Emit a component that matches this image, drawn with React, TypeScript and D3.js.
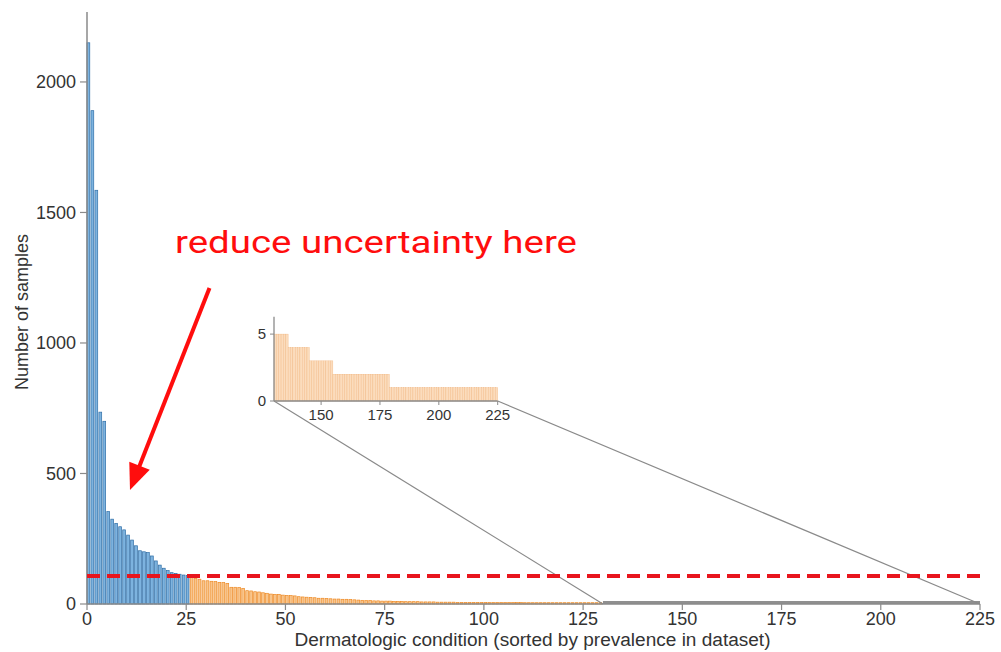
import React from "react";
import * as d3 from "d3";

// Number of samples per condition, sorted by prevalence
const blueCounts = [2150, 1890, 1585, 735, 700, 354, 325, 309, 296, 284, 264, 245, 223, 204, 200, 197, 184, 165, 149, 137, 128, 120, 117, 114, 111, 109];
const orangeCounts = [
  104, 98, 95, 89, 89, 87, 86, 83, 82, 79,
  64, 64, 63, 60, 51, 50, 47, 46, 43, 41,
  38, 37, 37, 34, 33, 32, 31, 28, 27, 26,
  25, 24, 22, 22, 21, 20, 19, 19, 18, 18,
  17, 16, 15, 14, 13, 13, 12, 12, 11, 11,
  11, 10, 10, 10, 9, 9, 9, 9, 8, 8,
  8, 8, 7, 7, 7, 7, 7, 6, 6, 6,
  6, 6, 6, 6, 6, 6, 6, 6, 6, 6,
  6, 6, 6, 6, 5, 5, 5, 5, 5, 5,
  5, 5, 5, 5, 5, 5, 5, 5, 5, 5,
  5, 5, 5, 5,
];
const insetStart = 130;
const insetCounts = [
  5, 5, 5, 5, 5, 5,
  4, 4, 4, 4, 4, 4, 4, 4, 4,
  3, 3, 3, 3, 3, 3, 3, 3, 3, 3,
  2, 2, 2, 2, 2, 2, 2, 2, 2, 2, 2, 2, 2, 2, 2, 2, 2, 2, 2, 2, 2, 2, 2, 2,
  1, 1, 1, 1, 1, 1, 1, 1, 1, 1, 1, 1, 1, 1, 1, 1, 1, 1, 1, 1, 1, 1, 1, 1,
  1, 1, 1, 1, 1, 1, 1, 1, 1, 1, 1, 1, 1, 1, 1, 1, 1, 1, 1, 1, 1, 1,
];
const threshold = 107;
const xTicks = [0, 25, 50, 75, 100, 125, 150, 175, 200, 225];
const yTicks = [0, 500, 1000, 1500, 2000];
const insetXTicks = [150, 175, 200, 225];
const insetYTicks = [0, 5];
const xTitle = "Dermatologic condition (sorted by prevalence in dataset)";
const yTitle = "Number of samples";
const annotation = "reduce uncertainty here";

const FONT = "'Liberation Sans', Arial, Helvetica, sans-serif";
const AXIS = "#8a8a8a";
const TXT = "#333";

export default function App() {
  const x = d3.scaleLinear().domain([0, 225]).range([87, 980]);
  const y = d3.scaleLinear().domain([0, 2268]).range([604, 12]);
  const xi = d3.scaleLinear().domain([insetStart, 225]).range([274, 497.7]);
  const yi = d3.scaleLinear().domain([0, 6.3]).range([401, 316.7]);
  const bw = (x(1) - x(0)) * 0.7;
  const ibw = xi(insetStart + 1) - xi(insetStart);

  const blue = blueCounts.map((v, i) => ({ i, v }));
  const orange = orangeCounts.map((v, k) => ({ i: blueCounts.length + k, v }));
  const inset = insetCounts.map((v, k) => ({ i: insetStart + k, v }));

  // arrow geometry
  const a0 = [209.5, 288];
  const tip = [130, 490];
  const dx = tip[0] - a0[0];
  const dy = tip[1] - a0[1];
  const len = Math.hypot(dx, dy);
  const ux = dx / len, uy = dy / len;
  const headL = 26, headW = 11;
  const bx = tip[0] - ux * headL, by = tip[1] - uy * headL;
  const head = `${tip[0]},${tip[1]} ${bx - uy * headW},${by + ux * headW} ${bx + uy * headW},${by - ux * headW}`;

  return (
    <svg width={1001} height={652} style={{ position: "absolute", left: 0, top: 0, background: "#fff" }}>
      {/* main bars */}
      {blue.map((d) => (
        <rect key={"b" + d.i} x={x(d.i)} y={y(d.v)} width={bw} height={y(0) - y(d.v)}
          fill="#7db3df" stroke="#2f6ea6" strokeWidth={0.7} />
      ))}
      {orange.map((d) => (
        <rect key={"o" + d.i} x={x(d.i)} y={y(d.v)} width={bw} height={y(0) - y(d.v)}
          fill="#f8c58c" stroke="#ee8a24" strokeWidth={0.7} />
      ))}
      {/* zoom region marker */}
      <rect x={x(insetStart)} y={y(0) - 3} width={x(225) - x(insetStart)} height={3} fill="#8f8f8f" />

      {/* connectors */}
      <line x1={x(insetStart)} y1={y(0)} x2={xi(insetStart)} y2={yi(0)} stroke={AXIS} strokeWidth={1.2} />
      <line x1={x(225)} y1={y(0)} x2={xi(225)} y2={yi(0)} stroke={AXIS} strokeWidth={1.2} />

      {/* main axes */}
      <line x1={x(0)} y1={y(0)} x2={x(225)} y2={y(0)} stroke={AXIS} strokeWidth={1.5} />
      <line x1={x(0)} y1={12} x2={x(0)} y2={y(0)} stroke={AXIS} strokeWidth={1.5} />
      {xTicks.map((t) => (
        <g key={"xt" + t}>
          <line x1={x(t)} x2={x(t)} y1={y(0)} y2={y(0) + 6} stroke={AXIS} strokeWidth={1.2} />
          <text x={x(t)} y={y(0) + 21} textAnchor="middle" fontFamily={FONT} fontSize={18} fill={TXT}>{t}</text>
        </g>
      ))}
      {yTicks.map((t) => (
        <g key={"yt" + t}>
          <line x1={x(0) - 7} x2={x(0)} y1={y(t)} y2={y(t)} stroke={AXIS} strokeWidth={1.2} />
          <text x={x(0) - 11} y={y(t)} dy="0.35em" textAnchor="end" fontFamily={FONT} fontSize={18} fill={TXT}>{t}</text>
        </g>
      ))}
      <text x={(x(0) + x(225)) / 2 - 1} y={646} textAnchor="middle" fontFamily={FONT} fontSize={18} fill={TXT}
        textLength={476} lengthAdjust="spacingAndGlyphs">{xTitle}</text>
      <text transform="translate(28,312) rotate(-90)" textAnchor="middle" fontFamily={FONT} fontSize={18} fill={TXT}>{yTitle}</text>

      {/* threshold */}
      <line x1={x(0)} x2={x(225)} y1={y(threshold)} y2={y(threshold)} stroke="#e8151d" strokeWidth={4} strokeDasharray="13 7" />

      {/* inset */}
      {inset.map((d) => (
        <rect key={"i" + d.i} x={xi(d.i)} y={yi(d.v)} width={ibw} height={yi(0) - yi(d.v)}
          fill="#fbdcbd" stroke="#f0b47c" strokeWidth={0.35} />
      ))}
      <line x1={xi(insetStart)} y1={yi(0)} x2={xi(225)} y2={yi(0)} stroke={AXIS} strokeWidth={1.3} />
      <line x1={xi(insetStart)} y1={316.7} x2={xi(insetStart)} y2={yi(0)} stroke={AXIS} strokeWidth={1.3} />
      {insetXTicks.map((t) => (
        <g key={"ixt" + t}>
          <line x1={xi(t)} x2={xi(t)} y1={yi(0)} y2={yi(0) + 4} stroke={AXIS} strokeWidth={1} />
          <text x={xi(t)} y={yi(0) + 19} textAnchor="middle" fontFamily={FONT} fontSize={15} fill={TXT}>{t}</text>
        </g>
      ))}
      {insetYTicks.map((t) => (
        <g key={"iyt" + t}>
          <line x1={xi(insetStart) - 4} x2={xi(insetStart)} y1={yi(t)} y2={yi(t)} stroke={AXIS} strokeWidth={1} />
          <text x={xi(insetStart) - 8} y={yi(t)} dy="0.35em" textAnchor="end" fontFamily={FONT} fontSize={15} fill={TXT}>{t}</text>
        </g>
      ))}

      {/* annotation */}
      <text x={175} y={253} fontFamily="Roboto, 'Open Sans', sans-serif" fontSize={31} fill="#ff0d0d"
        textLength={402} lengthAdjust="spacingAndGlyphs">{annotation}</text>
      <line x1={a0[0]} y1={a0[1]} x2={bx + ux * 2} y2={by + uy * 2} stroke="#ff0d0d" strokeWidth={4} />
      <polygon points={head} fill="#ff0d0d" />
    </svg>
  );
}
